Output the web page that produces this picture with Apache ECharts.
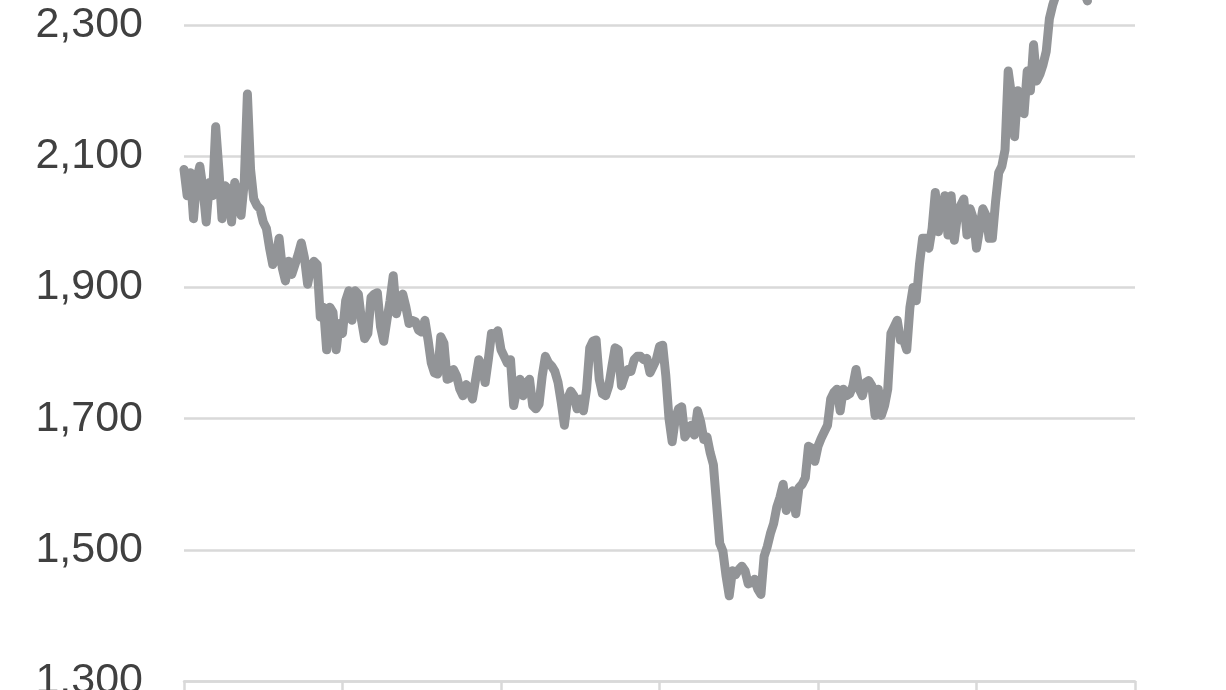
<!DOCTYPE html>
<html>
<head>
<meta charset="utf-8">
<script src="https://cdn.jsdelivr.net/npm/echarts@6/dist/echarts.min.js"></script>
<style>
html,body{margin:0;padding:0;background:#fff;overflow:hidden;width:1226px;height:690px;}
#chart{width:1226px;height:816px;margin-top:-126px;}
</style>
</head>
<body>
<div id="chart"></div>
<script>
// Period index categories (0..300), ticks every 50 periods
const categories = Array.from({length: 301}, (_, i) => String(i));

// Series values
const values = [
  2080,2040,2075,2005,2065,2085,2050,2000,2060,2040,
  2145,2080,2005,2055,2050,2000,2060,2040,2010,2060,
  2195,2080,2035,2025,2020,2000,1990,1960,1935,1945,
  1975,1930,1910,1940,1920,1935,1950,1968,1945,1905,
  1930,1940,1935,1855,1870,1805,1870,1862,1805,1845,
  1830,1880,1895,1850,1895,1890,1850,1822,1830,1885,
  1890,1892,1840,1818,1850,1880,1918,1860,1880,1890,
  1870,1845,1850,1848,1835,1832,1850,1820,1785,1770,
  1768,1825,1815,1760,1762,1775,1765,1745,1735,1752,
  1745,1730,1760,1790,1780,1755,1790,1830,1828,1834,
  1805,1795,1785,1790,1720,1745,1760,1735,1755,1760,
  1720,1715,1722,1765,1795,1785,1780,1772,1755,1725,
  1690,1730,1742,1735,1715,1730,1712,1745,1808,1818,
  1820,1760,1738,1735,1750,1780,1808,1805,1750,1765,
  1775,1772,1790,1795,1795,1790,1792,1770,1780,1790,
  1810,1812,1765,1700,1665,1700,1715,1718,1672,1680,
  1690,1675,1712,1695,1668,1672,1648,1630,1570,1510,
  1498,1460,1430,1468,1462,1470,1475,1468,1448,1450,
  1455,1440,1432,1490,1505,1525,1540,1565,1580,1600,
  1560,1580,1590,1555,1595,1600,1610,1658,1655,1635,
  1658,1670,1680,1690,1730,1740,1745,1712,1745,1735,
  1738,1750,1775,1745,1735,1755,1758,1750,1705,1745,
  1705,1720,1745,1830,1840,1850,1820,1820,1805,1870,
  1900,1880,1935,1975,1975,1960,1990,2045,1985,2010,
  2040,1980,2040,1972,2010,2025,2035,1980,2020,2005,
  1960,1990,2020,2010,1975,1975,2030,2075,2085,2110,
  2230,2195,2130,2200,2170,2165,2230,2200,2270,2215,
  2225,2240,2260,2310,2330,2345,2375,2390,2395,2385,
  2400,2390,2380,2370,2350,2337
];

// Y axis tick settings
const yMin = 1300, yMax = 2500, yStep = 200;

const chart = echarts.init(document.getElementById('chart'), null, {renderer: 'canvas'});
chart.setOption({
  animation: false,
  backgroundColor: '#ffffff',
  grid: {left: 184, right: 91, top: 20, bottom: 9, containLabel: false, outerBoundsMode: 'none'},
  xAxis: {
    type: 'category',
    data: categories,
    boundaryGap: false,
    axisLine: {show: true, lineStyle: {color: '#d9d9d9', width: 2.5}},
    axisTick: {show: true, interval: 49, length: 12, lineStyle: {color: '#d9d9d9', width: 2.5}},
    axisLabel: {show: false},
    splitLine: {show: false}
  },
  yAxis: {
    type: 'value',
    min: yMin, max: yMax, interval: yStep,
    axisLine: {show: false},
    axisTick: {show: false},
    axisLabel: {
      margin: 41,
      color: '#404040',
      fontFamily: '"Liberation Sans", Arial, sans-serif',
      fontSize: 43,
      formatter: v => v.toLocaleString('en-US')
    },
    splitLine: {show: true, lineStyle: {color: '#d9d9d9', width: 2.5}}
  },
  series: [{
    type: 'line',
    data: values,
    symbol: 'none',
    smooth: false,
    clip: false,
    lineStyle: {color: '#929497', width: 9, cap: 'round', join: 'round'}
  }]
});
</script>
</body>
</html>
